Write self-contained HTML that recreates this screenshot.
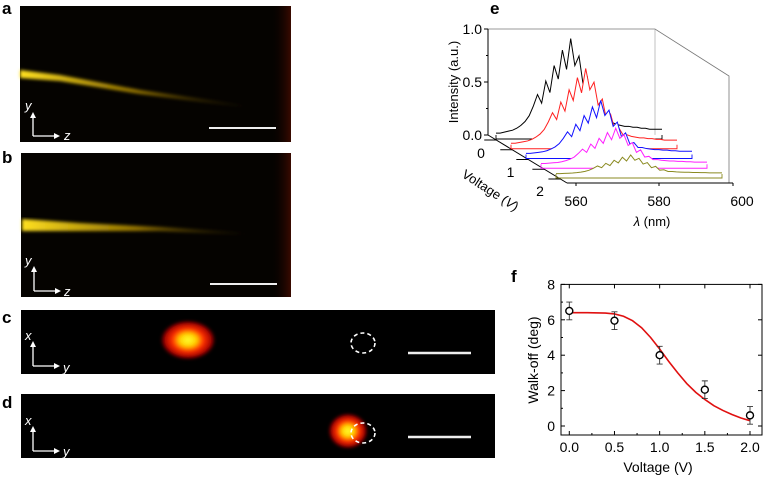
<!DOCTYPE html>
<html><head><meta charset="utf-8"><style>
html,body{margin:0;padding:0;background:#fff;width:764px;height:482px;overflow:hidden}
svg{display:block;font-family:"Liberation Sans",Arial,sans-serif}
</style></head><body>
<svg id="fig" width="764" height="482" viewBox="0 0 764 482">
<defs>
<linearGradient id="beamA" x1="0" x2="1"><stop offset="0" stop-color="#ffe020"/><stop offset="0.5" stop-color="#b89000" stop-opacity="0.8"/><stop offset="1" stop-color="#503c00" stop-opacity="0"/></linearGradient>
<linearGradient id="edge" x1="0" x2="1"><stop offset="0" stop-color="#000" stop-opacity="0"/><stop offset="1" stop-color="#3a0a00"/></linearGradient>
<radialGradient id="spot"><stop offset="0" stop-color="#ffff30"/><stop offset="0.3" stop-color="#ffd000"/><stop offset="0.55" stop-color="#ff3000"/><stop offset="0.85" stop-color="#a00000"/><stop offset="1" stop-color="#300000" stop-opacity="0"/></radialGradient>
<filter id="blur"><feGaussianBlur stdDeviation="1.6"/></filter>
</defs>
<g font-weight="bold" font-size="17" fill="#000">
<text x="2" y="14">a</text>
<text x="2" y="163">b</text>
<text x="2" y="323">c</text>
<text x="2" y="408">d</text>
<text x="490" y="14">e</text>
<text x="511" y="282">f</text>
</g>
<!-- panel a -->
<g>
<rect x="20" y="6" width="271" height="136" fill="#050300"/>
<rect x="270" y="6" width="21" height="136" fill="url(#edge)"/>
<polygon points="20,70 60,75 140,90 250,106 250,108 140,94 60,81 20,78" fill="url(#beamA)" filter="url(#blur)"/>
<line x1="209" y1="128" x2="276" y2="128" stroke="#eee" stroke-width="2"/>
<path d="M33,136 V116 M33,136 H56" stroke="#fff" stroke-width="1.3" fill="none"/>
<path d="M30,118 L33,112 L36,118Z M54,133 L60,136 L54,139Z" fill="#fff"/>
<text x="25" y="110" fill="#fff" font-size="13" font-style="italic">y</text>
<text x="64" y="140" fill="#fff" font-size="13" font-style="italic">z</text>
</g>
<!-- panel b -->
<g>
<rect x="21" y="153" width="270" height="144" fill="#050300"/>
<rect x="270" y="153" width="21" height="144" fill="url(#edge)"/>
<polygon points="22,219 80,223 160,227 250,233 250,235 160,231 80,231 22,231" fill="url(#beamA)" filter="url(#blur)"/>
<line x1="210" y1="284" x2="277" y2="284" stroke="#eee" stroke-width="2"/>
<path d="M34,291 V270 M34,291 H57" stroke="#fff" stroke-width="1.3" fill="none"/>
<path d="M31,272 L34,266 L37,272Z M55,288 L61,291 L55,294Z" fill="#fff"/>
<text x="25" y="265" fill="#fff" font-size="13" font-style="italic">y</text>
<text x="64" y="296" fill="#fff" font-size="13" font-style="italic">z</text>
</g>
<!-- panel c -->
<g>
<rect x="21" y="310" width="474" height="64" fill="#000"/>
<ellipse cx="188" cy="340" rx="28" ry="20" fill="url(#spot)" filter="url(#blur)"/>
<ellipse cx="363" cy="343" rx="12" ry="10" fill="none" stroke="#fff" stroke-width="1.6" stroke-dasharray="4,3"/>
<line x1="408" y1="353" x2="471" y2="353" stroke="#eee" stroke-width="2.5"/>
<path d="M33,366 V345 M33,366 H56" stroke="#fff" stroke-width="1.3" fill="none"/>
<path d="M30,347 L33,341 L36,347Z M54,363 L60,366 L54,369Z" fill="#fff"/>
<text x="25" y="340" fill="#fff" font-size="13" font-style="italic">x</text>
<text x="63" y="372" fill="#fff" font-size="13" font-style="italic">y</text>
</g>
<!-- panel d -->
<g>
<rect x="21" y="394" width="474" height="64" fill="#000"/>
<ellipse cx="348" cy="431" rx="20" ry="18" fill="url(#spot)" filter="url(#blur)"/>
<ellipse cx="363" cy="433" rx="12" ry="10" fill="none" stroke="#fff" stroke-width="1.6" stroke-dasharray="4,3"/>
<line x1="408" y1="437" x2="471" y2="437" stroke="#eee" stroke-width="2.5"/>
<path d="M33,451 V430 M33,451 H56" stroke="#fff" stroke-width="1.3" fill="none"/>
<path d="M30,432 L33,426 L36,432Z M54,448 L60,451 L54,454Z" fill="#fff"/>
<text x="25" y="425" fill="#fff" font-size="13" font-style="italic">x</text>
<text x="63" y="456" fill="#fff" font-size="13" font-style="italic">y</text>
</g>
<g id="panelE"></g>
<g id="panelF"></g>
</svg>
<script>
// ---- Panel e data ----
const eLambda = [560,561,562,563,564,565,566,567,568,569,570,571,572,573,574,575,576,577,578,579,580,581,582,583,584,585,586,587,588,589,590,591,592,593,594,595,596,597,598,599,600];
const eProfile = [0.02,0.02,0.03,0.04,0.05,0.07,0.1,0.14,0.2,0.3,0.42,0.33,0.56,0.44,0.72,0.58,0.88,0.68,1.0,0.72,0.82,0.52,0.6,0.33,0.4,0.2,0.22,0.13,0.13,0.11,0.1,0.09,0.09,0.08,0.08,0.07,0.07,0.06,0.06,0.06,0.06];
const eVoltages = [0,0.5,1,1.5,2];
const ePeaks = [0.91,0.72,0.51,0.34,0.18];
const eColors = ['#000000','#ff2020','#1010ff','#ff20ff','#8a8a20'];
const eITicks = [0,0.5,1.0];
const eITickLabels = ['0.0','0.5','1.0'];
const eLTicks = [560,580,600];
const eVTicks = [0,1,2];
// ---- Panel f data ----
const fVolt = [0,0.5,1.0,1.5,2.0];
const fWalk = [6.5,5.95,4.0,2.05,0.6];
const fErr = [0.5,0.5,0.5,0.5,0.5];
const fFitV = [0,0.2,0.4,0.5,0.6,0.7,0.8,0.9,1.0,1.1,1.2,1.3,1.4,1.5,1.6,1.7,1.8,1.9,2.0];
const fFitW = [6.4,6.4,6.38,6.33,6.2,5.95,5.55,5.0,4.35,3.65,3.0,2.4,1.9,1.5,1.15,0.88,0.65,0.45,0.3];
const fXTicks = [0,0.5,1.0,1.5,2.0];
const fXLabels = ['0.0','0.5','1.0','1.5','2.0'];
const fYTicks = [0,2,4,6,8];

const NS='http://www.w3.org/2000/svg';
function mk(tag,attrs,parent,txt){const e=document.createElementNS(NS,tag);for(const k in attrs)e.setAttribute(k,attrs[k]);if(txt!==undefined)e.textContent=txt;parent.appendChild(e);return e;}

// Panel e geometry (3D projection)
const E=document.getElementById('panelE');
const ox=496, oy=135, lw=166, ih=106, dvx=30, dvy=19.5;
const ex=(l,v)=>ox+(l-560)/40*lw+v*dvx;
const ey=(i,v)=>oy+v*dvy-i*ih;
// back box
mk('path',{d:`M488,135 V29 H655 L729,76 V183`,stroke:'#777','stroke-width':0.8,fill:'none'},E);
mk('line',{x1:655,y1:29,x2:655,y2:135,stroke:'#999','stroke-width':0.6},E);
// intensity axis
mk('line',{x1:488,y1:29,x2:488,y2:135,stroke:'#000','stroke-width':1},E);
eITicks.forEach((t,i)=>{const y=oy-t*ih;
  mk('line',{x1:484,y1:y,x2:488,y2:y,stroke:'#000'},E);
  const tl=mk('text',{x:482,y:y+5,'text-anchor':'end','font-size':14},E,eITickLabels[i]);
  
  
});
[0.25,0.75].forEach(t=>mk('line',{x1:486,y1:oy-t*ih,x2:488,y2:oy-t*ih,stroke:'#000'},E));
const it=mk('text',{x:0,y:0,transform:'translate(458,82) rotate(-90)','text-anchor':'middle','font-size':13},E,'Intensity (a.u.)');


// voltage axis: from (488,135) to (567,183)
mk('line',{x1:488,y1:135,x2:567,y2:183,stroke:'#000'},E);
const vAxX=y=>488+(y-135)*79/48;
[0,0.5,1,1.5,2].forEach(v=>{const y=140+v*dvy,x=vAxX(y);
  mk('line',{x1:x-12,y1:y,x2:x,y2:y,stroke:'#000'},E);
});
eVTicks.forEach(v=>{const y=158+v*19,x=481+v*29.5;
  const vl=mk('text',{x:x,y:y,'text-anchor':'middle','font-size':14},E,String(v));
  
  
});
const vt=mk('text',{x:0,y:0,transform:'translate(488,194) rotate(33)','text-anchor':'middle','font-size':13},E);
vt.innerHTML='Voltage (<tspan font-style="italic">V</tspan>)';


// lambda axis
const lay=183;
const lx=l=>576+(l-560)/40*166;
mk('line',{x1:567,y1:lay,x2:733,y2:lay,stroke:'#000'},E);
eLTicks.forEach(l=>{const x=lx(l);
  mk('line',{x1:Math.min(x,733),y1:lay,x2:Math.min(x,733),y2:lay+3,stroke:'#000'},E);
  const ll=mk('text',{x:x,y:206,'text-anchor':'middle','font-size':14},E,String(l));
  
  
});
const lt=mk('text',{x:652,y:226,'text-anchor':'middle','font-size':13},E);
lt.innerHTML='<tspan font-style="italic">λ</tspan> (nm)';


// spectra
eVoltages.forEach((v,s)=>{
  const pts=eLambda.map((l,i)=>ex(l,v)+','+ey(eProfile[i]*ePeaks[s],v)).join(' ');
  const g=mk('g',{},E);
  
  
  const x0=ex(560,v),x1=ex(600,v),y0=ey(0,v);
  mk('polygon',{points:`${x0},${y0+4} ${x1},${y0+4} ${x1},${y0} ${pts}`,fill:'#fff',stroke:'none'},g);
  mk('path',{d:`M${x0},${y0} V${y0+4} H${x1} V${y0}`,stroke:eColors[s],'stroke-width':0.9,fill:'none'},g);
  mk('polyline',{points:pts,stroke:eColors[s],'stroke-width':1,fill:'none'},g);
});

// Panel f
const F=document.getElementById('panelF');
const fxs=v=>569.3+v*(750-569.3)/2;
const fys=w=>426-w*17.7;
const fx0=561,fx1=762,fy0=fys(8),fy1=435;
mk('rect',{x:fx0,y:fy0,width:fx1-fx0,height:fy1-fy0,fill:'none',stroke:'#000','stroke-width':1},F);
fXTicks.forEach((t,i)=>{const x=fxs(t);
  mk('line',{x1:x,y1:fy1,x2:x,y2:fy1-4,stroke:'#000'},F);
  mk('line',{x1:x,y1:fy0,x2:x,y2:fy0+4,stroke:'#000'},F);
  const tl=mk('text',{x:x,y:452,'text-anchor':'middle','font-size':14},F,fXLabels[i]);
  
  
});
[0.25,0.75,1.25,1.75].forEach(t=>mk('line',{x1:fxs(t),y1:fy1,x2:fxs(t),y2:fy1-2,stroke:'#000'},F));
fYTicks.forEach(t=>{const y=fys(t);
  mk('line',{x1:fx0,y1:y,x2:fx0+4,y2:y,stroke:'#000'},F);
  mk('line',{x1:fx1,y1:y,x2:fx1-4,y2:y,stroke:'#000'},F);
  const tl=mk('text',{x:fx0-6,y:y+5,'text-anchor':'end','font-size':14},F,String(t));
  
  
});
[1,3,5,7].forEach(t=>mk('line',{x1:fx0,y1:fys(t),x2:fx0+2,y2:fys(t),stroke:'#000'},F));
const xt=mk('text',{x:658,y:472,'text-anchor':'middle','font-size':14},F,'Voltage (V)');


const yt=mk('text',{x:0,y:0,transform:'translate(538,360) rotate(-90)','text-anchor':'middle','font-size':14},F,'Walk-off (deg)');


const fit=mk('polyline',{points:fFitV.map((v,i)=>fxs(v)+','+fys(fFitW[i])).join(' '),stroke:'#e01010','stroke-width':1.6,fill:'none'},F);


fVolt.forEach((v,i)=>{const x=fxs(v),y=fys(fWalk[i]),e=fErr[i]*17.7;
  const g=mk('g',{},F);
  
  
  mk('path',{d:`M${x},${y-e} V${y+e} M${x-3},${y-e} H${x+3} M${x-3},${y+e} H${x+3}`,stroke:'#333','stroke-width':0.9},g);
  mk('circle',{cx:x,cy:y,r:3.5,fill:'#fff',stroke:'#000','stroke-width':1.4},g);
});
</script>
</body></html>
